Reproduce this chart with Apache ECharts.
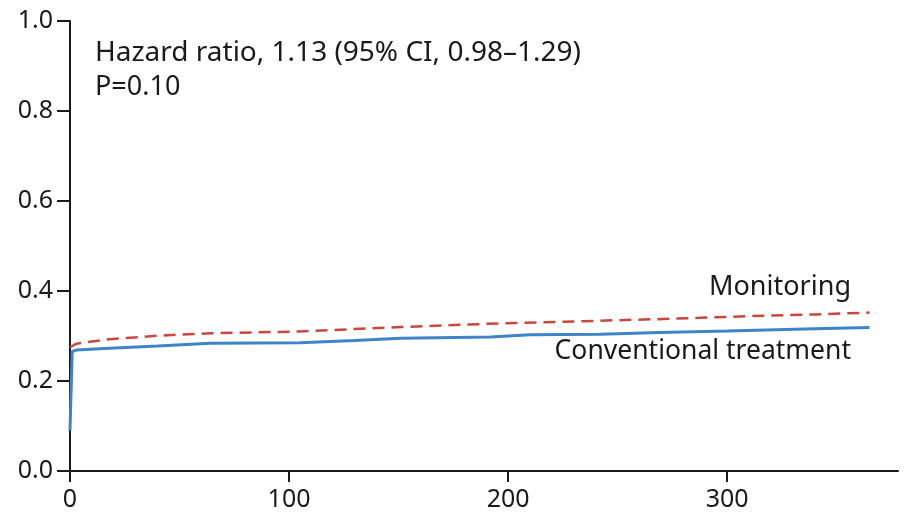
<!DOCTYPE html>
<html>
<head>
<meta charset="utf-8">
<script src="https://cdn.jsdelivr.net/npm/echarts@6/dist/echarts.min.js"></script>
<style>html,body{margin:0;padding:0;background:#fff}#c{width:910px;height:519px}</style>
</head>
<body>
<div id="c"></div>
<script>
// Conventional treatment (blue, solid)
const convDays   = [0, 0, 1, 3, 18, 40, 64, 105, 130, 151, 192, 210, 242, 269, 300, 340, 365];
const convValues = [0.09, 0.09, 0.265, 0.269, 0.273, 0.278, 0.284, 0.285, 0.29, 0.295, 0.298, 0.303, 0.304, 0.308, 0.311, 0.316, 0.319];
// Monitoring (red, dashed)
const monDays   = [0, 3, 18, 41, 64, 105, 151, 196, 242, 265, 310, 340, 365];
const monValues = [0.275, 0.283, 0.293, 0.301, 0.306, 0.31, 0.32, 0.328, 0.334, 0.337, 0.344, 0.348, 0.352];
const xTicks = [0, 100, 200, 300];
const yTicks = [0.0, 0.2, 0.4, 0.6, 0.8, 1.0];
const hrText = 'Hazard ratio, 1.13 (95% CI, 0.98\u20131.29)';
const pText = 'P=0.10';
const seriesNames = ['Monitoring', 'Conventional treatment'];

const FONT = 'Noto Sans';
const chart = echarts.init(document.getElementById('c'));
chart.setOption({
  animation: false,
  grid: { left: 70, top: 21, right: 12, bottom: 48, containLabel: false },
  xAxis: {
    type: 'value', min: 0, max: 378, interval: 100,
    axisLine: { lineStyle: { color: '#1a1a1a', width: 2 } },
    axisTick: { show: true, length: 11, lineStyle: { color: '#1a1a1a', width: 2 }, customValues: xTicks },
    axisLabel: { color: '#1a1a1a', fontSize: 25, fontFamily: FONT, margin: 16, customValues: xTicks },
    splitLine: { show: false }
  },
  yAxis: {
    type: 'value', min: 0, max: 1, interval: 0.2,
    axisLine: { show: true, lineStyle: { color: '#1a1a1a', width: 2 } },
    axisTick: { show: true, length: 13, lineStyle: { color: '#1a1a1a', width: 2 } },
    axisLabel: { color: '#1a1a1a', fontSize: 25, fontFamily: FONT, margin: 17,
      formatter: v => v.toFixed(1) },
    splitLine: { show: false }
  },
  series: [
    {
      name: seriesNames[1], type: 'line', showSymbol: false, symbol: 'none',
      data: convDays.map((d, i) => [d, convValues[i]]),
      lineStyle: { color: '#3f84c8', width: 3 }, z: 2
    },
    {
      name: seriesNames[0], type: 'line', showSymbol: false, symbol: 'none',
      data: monDays.map((d, i) => [d, monValues[i]]),
      lineStyle: { color: '#c9473d', width: 2.5, type: [12, 7] }, z: 3
    }
  ],
  graphic: [
    { type: 'text', left: 95, top: 39, style: { text: hrText, font: '28px "Noto Sans"', fill: '#1a1a1a' } },
    { type: 'text', left: 95, top: 74, style: { text: pText, font: '27px "Noto Sans"', fill: '#1a1a1a' } },
    { type: 'text', right: 59, top: 274, style: { text: seriesNames[0], font: '27px "Noto Sans"', fill: '#1a1a1a' } },
    { type: 'text', right: 59, top: 338, style: { text: seriesNames[1], font: '26.5px "Noto Sans"', fill: '#1a1a1a' } }
  ]
});
</script>
</body>
</html>
